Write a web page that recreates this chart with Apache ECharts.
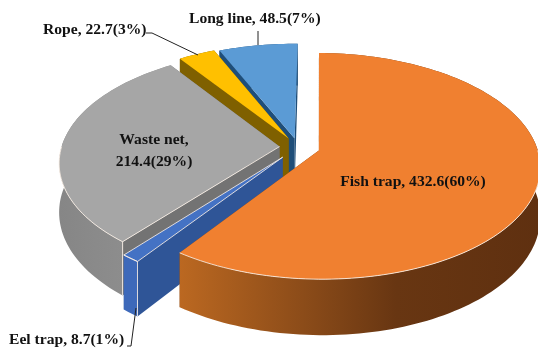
<!DOCTYPE html>
<html><head><meta charset="utf-8">
<style>html,body{margin:0;padding:0;background:#fff}#c{width:538px;height:350px}</style>
<script src="https://cdn.jsdelivr.net/npm/echarts@6/dist/echarts.min.js"></script>
</head><body><div id="c"></div>
<script>
const categories = ['Fish trap','Eel trap','Waste net','Rope','Long line'];
const values = [432.6, 8.7, 214.4, 22.7, 48.5];
const explosions = [0.1, 0.115, 0.085, 0.09, 0.08];
const topColors = ['#f08030','#4472c4','#a6a6a6','#ffc000','#5b9bd5'];
const cutColors = ['#7a3f12','#2f5597','#737373','#7f6000','#1f4e79'];
const drawOrder = [4,3,2,1,0];

// view parameters of the tilted, perspective pie
const cx=298, cy=147, B=218, A=110, b=0.138, H=48, firstAngle=0.8;
const total = values.reduce((s,v)=>s+v,0);
const RAD = Math.PI/180;
const starts=[]; { let acc=0; values.forEach(v=>{starts.push(firstAngle+acc/total*360); acc+=v;}); }

function proj(X,Y,h){const d=1-b*Y; return [cx+B*X/d, cy+(A*Y+H*h)/d];}
function wallFill(i){
  if(i===0) return new echarts.graphic.LinearGradient(0,0,1,0,[
    {offset:0,color:'#bb6821'},{offset:.34,color:'#8c4c19'},{offset:.6,color:'#683612'},{offset:1,color:'#5f3010'}]);
  if(i===2) return new echarts.graphic.LinearGradient(0,0,1,0,[
    {offset:0,color:'#868686'},{offset:1,color:'#929292'}]);
  return i===1?'#3d69ba':cutColors[i];
}
function renderSlice(params,api){
  const i=api.value(0), v=api.value(1), explode=explosions[i];
  const a0=starts[i], a1=a0+v/total*360, mid=(a0+a1)/2;
  const ox=explode*Math.sin(mid*RAD), oy=-explode*Math.cos(mid*RAD);
  const P=(a,h)=>proj(ox+Math.sin(a*RAD),oy-Math.cos(a*RAD),h);
  const apex=h=>proj(ox,oy,h);
  const arc=(s,e,h)=>{const n=Math.max(2,Math.ceil((e-s)/1.5)),r=[];for(let k=0;k<=n;k++)r.push(P(s+(e-s)*k/n,h));return r;};
  const ch=[];
  const poly=(points,fill)=>ch.push({type:'polygon',shape:{points},style:{fill,stroke:null}});
  const line=(points,w)=>ch.push({type:'polyline',shape:{points},style:{fill:null,stroke:'rgba(250,240,230,.85)',lineWidth:w||1}});
  poly([apex(0),P(a1,0),P(a1,1),apex(1)],cutColors[i]);
  poly([apex(0),P(a0,0),P(a0,1),apex(1)],cutColors[i]);
  poly(arc(a0,a1,0).concat(arc(a0,a1,1).reverse()),wallFill(i));
  poly([apex(0)].concat(arc(a0,a1,0)),topColors[i]);
  const hs=Math.max(a0,90), he=Math.min(a1,270);
  if(he>hs) line(arc(hs,he,0));
  if(i===1||i===2){ line([apex(0),P(a0,0),P(a0,1)]); }
  if(i===1){ line([apex(0),P(a1,0),P(a0,0)]); }
  return {type:'group',children:ch};
}

const pct=i=>Math.round(values[i]/total*100);
const labelText=(i,sep)=>`${categories[i]},${sep}${values[i]}(${pct(i)}%)`;
const labelStyle={fontFamily:'"Liberation Serif"',fontWeight:'bold',fontSize:15.6,fill:'#111'};
const labels=[
  {i:0,x:413,y:182,align:'center',sep:' '},
  {i:1,x:9,y:340,align:'left',sep:' '},
  {i:2,x:154,y:151,align:'center',sep:'\n'},
  {i:3,x:43,y:30,align:'left',sep:' '},
  {i:4,x:189,y:19,align:'left',sep:' '}
];
const leaders=[
  [[136,308],[131,346],[127,346]],
  [[146,33],[152,33],[198,55]],
  [[258,31],[258,45]]
];
const option={
  animation:false,
  series:[{
    type:'custom',coordinateSystem:'none',renderItem:renderSlice,silent:true,clip:false,
    data:drawOrder.map(i=>[i,values[i]])
  }],
  graphic:{elements:[
    ...leaders.map(points=>({type:'polyline',z:50,shape:{points},style:{fill:null,stroke:'#222',lineWidth:1}})),
    ...labels.map(l=>({type:'text',z:60,x:l.x,y:l.y,style:Object.assign({},labelStyle,{text:labelText(l.i,l.sep),align:l.align,verticalAlign:'middle',lineHeight:22})}))
  ]}
};
echarts.init(document.getElementById('c'),null,{renderer:'canvas'}).setOption(option);
</script></body></html>
